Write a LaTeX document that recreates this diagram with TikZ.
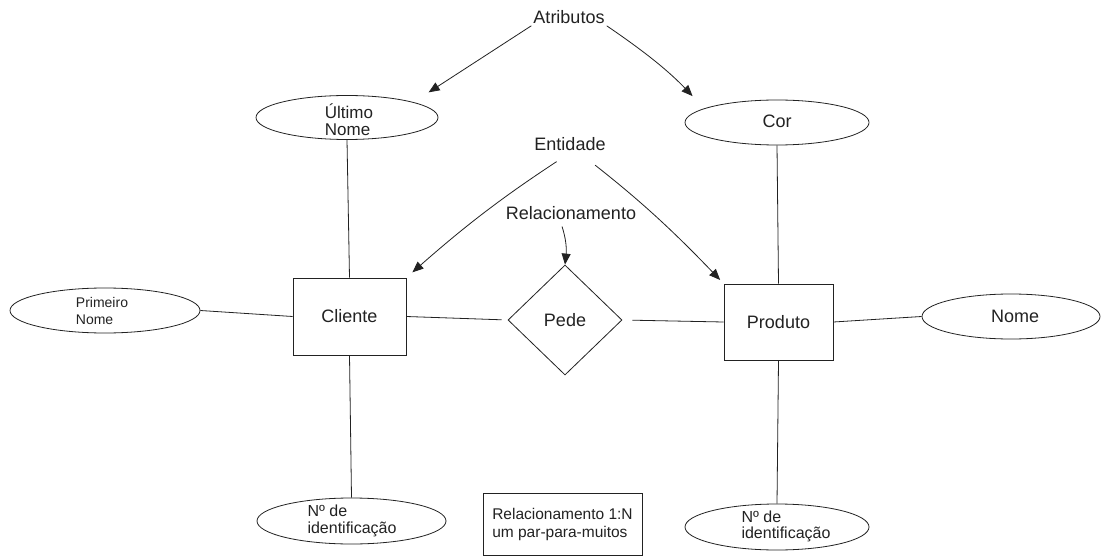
\documentclass[tikz,border=0pt]{standalone}
\usepackage{fontspec}
\setmainfont{Liberation Sans}
\usetikzlibrary{shapes.geometric,arrows.meta}
\definecolor{ink}{HTML}{222222}

\begin{document}
\begin{tikzpicture}[x=1pt,y=-1pt,
  attr/.style={ellipse, draw=ink, line width=0.8pt, inner sep=0pt},
  entbox/.style={rectangle, draw=ink, line width=0.8pt, inner sep=0pt,
    font=\fontsize{18}{21}\selectfont, text=ink},
  relshape/.style={diamond, draw=ink, line width=0.8pt, inner sep=0pt,
    font=\fontsize{18}{21}\selectfont, text=ink},
  caption/.style={font=\fontsize{18}{21}\selectfont, text=ink, inner sep=2pt},
  attrtext/.style={font=\fontsize{15}{17}\selectfont, text=ink, align=left, inner sep=0pt},
  link/.style={draw=ink, line width=0.8pt},
  pointer/.style={link, -{Triangle[length=11pt,width=9pt]}}]

  % canvas
  \fill[white] (0,0) rectangle (1102,556);
  \useasboundingbox (0,0) rectangle (1102,556);

  % entities and relationship
  \node[entbox, minimum width=113pt, minimum height=77pt] (cli) at (349.5,316.5) {Cliente};
  \node[entbox, minimum width=109pt, minimum height=76pt] (prod) at (778.5,322) {Produto};
  \node[relshape, minimum width=114pt, minimum height=110pt] (pede) at (565,320) {Pede};

  % attributes
  \node[attr, minimum width=182pt, minimum height=44pt] (ult) at (347,117.5) {};
  \node[attrtext, font=\fontsize{17}{17}\selectfont] (ultT) at (349,120) {Último\\Nome};
  \node[attr, minimum width=184pt, minimum height=45pt] (cor) at (777,122.5) {};
  \node[caption] (corT) at (777,121) {Cor};
  \node[attr, minimum width=190pt, minimum height=45pt] (prim) at (105,310.5) {};
  \node[attrtext, font=\fontsize{14}{17}\selectfont] (primT) at (102,310.5) {Primeiro\\Nome};
  \node[attr, minimum width=178pt, minimum height=45pt] (nome) at (1011,316.5) {};
  \node[caption] (nomeT) at (1015,316.5) {Nome};
  \node[attr, minimum width=189pt, minimum height=46pt] (idc) at (351.5,521) {};
  \node[attrtext, font=\fontsize{16}{17}\selectfont] (idcT) at (352,521) {Nº de\\identificação};
  \node[attr, minimum width=184pt, minimum height=46pt] (idp) at (777,527) {};
  \node[attrtext, font=\fontsize{16}{16}\selectfont] (idpT) at (786,526) {Nº de\\identificação};

  % note box
  \node[rectangle, draw=ink, line width=0.8pt, minimum width=159pt, minimum height=62pt,
    font=\fontsize{15.5}{18}\selectfont, text=ink, align=left] (note) at (562.5,524)
    {Relacionamento 1:N\\um par-para-muitos};

  % explanatory captions
  \node[caption] (atr) at (569,17) {Atributos};
  \node[caption] (ent) at (570,144) {Entidade};
  \node[caption] (rel) at (571,213) {Relacionamento};

  % attribute links
  \draw[link] (ult.south) -- (cli.north);
  \draw[link] (prim.east) -- (cli.west);
  \draw[link] (cli.south) -- (idc.north);
  \draw[link] (cor.south) -- (prod.north);
  \draw[link] (prod.east) -- (nome.west);
  \draw[link] (prod.south) -- (idp.north);

  % relationship links
  \draw[link, shorten >=6pt] (cli.east) -- (pede.west);
  \draw[link, shorten <=10pt] (pede.east) -- (prod.west);

  % caption pointers
  \draw[pointer, shorten >=18pt] (atr.south west) -- (ult.13);
  \draw[pointer, shorten >=17pt, bend left=6] (atr.south east) to (cor.169);
  \draw[pointer, shorten <=16pt, shorten >=8pt, bend right=4] (ent.south) to (cli.north east);
  \draw[pointer, shorten <=20pt, shorten >=5pt, bend left=4] (ent.-43) to (prod.north west);
  \draw[pointer, shorten <=5pt, bend left=12] (rel.220) to (pede.north);
\end{tikzpicture}
\end{document}
